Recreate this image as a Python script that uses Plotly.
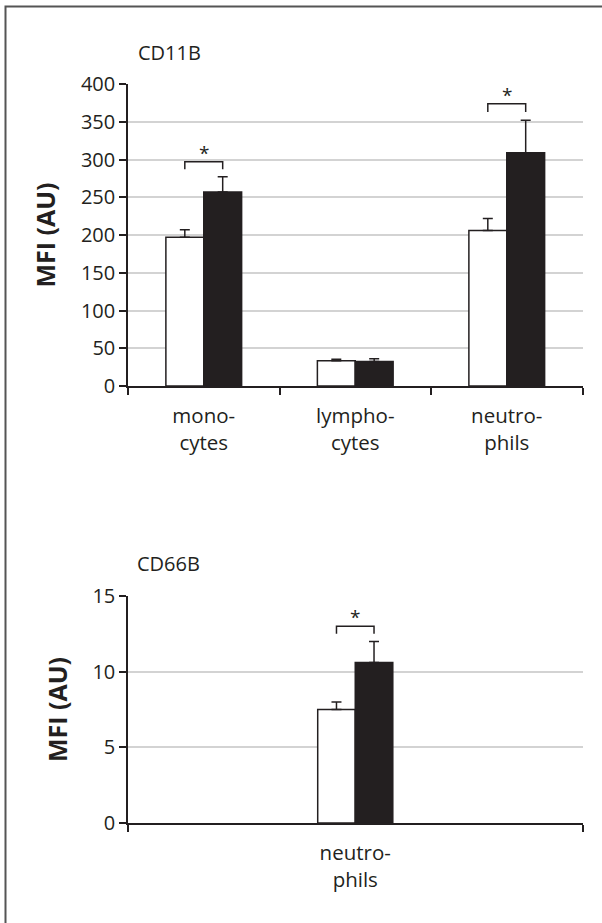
import plotly.graph_objects as go

# ---- data ----
cats_top = ["mono-<br>cytes", "lympho-<br>cytes", "neutro-<br>phils"]
ctrl_top = [197, 33.5, 206]
ctrl_top_err = [10, 2, 16]
trt_top = [257, 32.5, 309]
trt_top_err = [20, 3.5, 43]
sig_top = [297, None, 374]          # bracket levels (AU)
sig_top_leg = [287, None, 363]

cats_bot = ["neutro-<br>phils"]
ctrl_bot = [7.5]
ctrl_bot_err = [0.5]
trt_bot = [10.6]
trt_bot_err = [1.4]
sig_bot = [13.0]
sig_bot_leg = [12.5]

top_ticks = [0, 50, 100, 150, 200, 250, 300, 350, 400]
bot_ticks = [0, 5, 10, 15]

INK = "#231f20"
GRID = "#d3d3d3"
FONT = "Open Sans"

fig = go.Figure()

def add_panel(cats, ctrl, ctrl_err, trt, trt_err, sig, sig_leg, xa, ya, bw):
    xs = list(range(len(cats)))
    fig.add_trace(go.Bar(
        x=xs, y=ctrl, width=bw, offset=-bw, xaxis=xa, yaxis=ya,
        marker=dict(color="white", line=dict(color=INK, width=1.5)),
        error_y=dict(type="data", symmetric=False, array=ctrl_err,
                     arrayminus=[0] * len(ctrl), color=INK, thickness=1.5, width=5),
        showlegend=False, hoverinfo="skip"))
    fig.add_trace(go.Bar(
        x=xs, y=trt, width=bw, offset=0, xaxis=xa, yaxis=ya,
        marker=dict(color=INK, line=dict(color=INK, width=1.5)),
        error_y=dict(type="data", symmetric=False, array=trt_err,
                     arrayminus=[0] * len(trt), color=INK, thickness=1.5, width=5),
        showlegend=False, hoverinfo="skip"))
    for i, (s, l) in enumerate(zip(sig, sig_leg)):
        if s is None:
            continue
        x1, x2 = i - bw / 2, i + bw / 2
        fig.add_trace(go.Scatter(
            x=[x1, x1, x2, x2], y=[l, s, s, l], mode="lines", xaxis=xa, yaxis=ya,
            line=dict(color=INK, width=1.5), showlegend=False, hoverinfo="skip"))
        fig.add_annotation(x=i, y=s, xref=xa, yref=ya, text="*", showarrow=False,
                           yanchor="bottom", yshift=-6,
                           font=dict(family=FONT, size=19, color=INK))

add_panel(cats_top, ctrl_top, ctrl_top_err, trt_top, trt_top_err, sig_top, sig_top_leg, "x", "y", 0.25)
add_panel(cats_bot, ctrl_bot, ctrl_bot_err, trt_bot, trt_bot_err, sig_bot, sig_bot_leg, "x2", "y2", 0.0826)

xdom = [128 / 602, 582.5 / 602]
tick_font = dict(family=FONT, size=20, color=INK)
cat_font = dict(family=FONT, size=20.5, color=INK)

def xaxis_cfg(cats, anchor):
    return dict(domain=xdom, anchor=anchor, range=[-0.5, len(cats) - 0.5],
                tickvals=list(range(len(cats))), ticktext=cats, ticks="",
                ticklabelstandoff=11,
                showgrid=False, zeroline=False, showline=True, linecolor=INK,
                linewidth=1.5, tickfont=cat_font, automargin=False,
                minor=dict(tick0=0.5, dtick=1, ticks="outside", ticklen=7,
                           tickwidth=1.5, tickcolor=INK, showgrid=False))

def yaxis_cfg(ticks, dom, anchor):
    return dict(domain=dom, anchor=anchor, range=[ticks[0], ticks[-1]],
                tickvals=ticks, ticks="outside", ticklen=7, tickwidth=1.5,
                tickcolor=INK, showline=True, linecolor=INK, linewidth=1.5,
                showgrid=True, gridcolor=GRID, gridwidth=1.5, zeroline=False,
                tickfont=tick_font, automargin=False,
                title=dict(text="<b>MFI (AU)</b>", standoff=18,
                           font=dict(family=FONT, size=25, color=INK)))

fig.update_layout(
    width=602, height=923, template="none",
    margin=dict(l=0, r=0, t=0, b=0),
    paper_bgcolor="white", plot_bgcolor="white",
    barmode="overlay", showlegend=False,
    xaxis=xaxis_cfg(cats_top, "y"),
    yaxis=yaxis_cfg(top_ticks, [1 - 386 / 923, 1 - 84 / 923], "x"),
    xaxis2=xaxis_cfg(cats_bot, "y2"),
    yaxis2=yaxis_cfg(bot_ticks, [1 - 823 / 923, 1 - 596 / 923], "x2"),
)

fig.add_annotation(x=136 / 602, y=1 - 52 / 923, xref="paper", yref="paper",
                   text="CD11B", showarrow=False, xanchor="left", yanchor="middle",
                   font=dict(family=FONT, size=20, color=INK))
fig.add_annotation(x=135 / 602, y=1 - 563 / 923, xref="paper", yref="paper",
                   text="CD66B", showarrow=False, xanchor="left", yanchor="middle",
                   font=dict(family=FONT, size=20, color=INK))

# outer frame (only top/left edges visible)
fig.add_shape(type="rect", xref="paper", yref="paper",
              x0=5.5 / 602, x1=1.05, y0=-0.05, y1=1 - 6.5 / 923,
              line=dict(color="#555555", width=2), layer="below")

fig.write_html("out.html", config={"displayModeBar": False},
               post_script="document.body.style.margin='0';document.body.style.overflow='hidden';")
